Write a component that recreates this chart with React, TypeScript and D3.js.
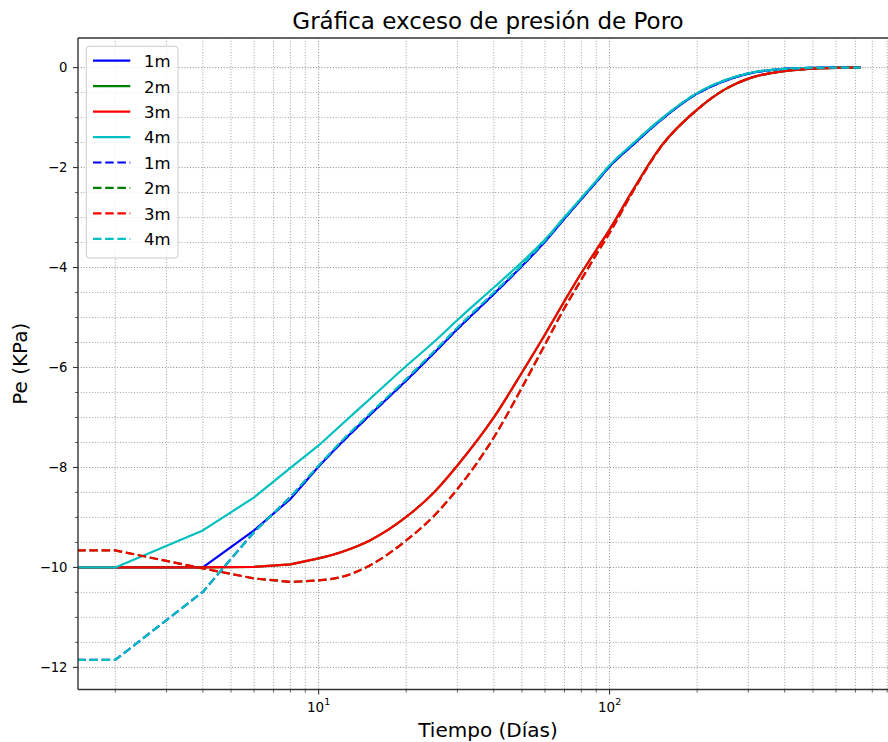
import React from 'react';
import * as d3 from 'd3';

// time steps (days); t = 0 is clipped to the left edge like matplotlib's log axis
const times = [0, 2, 4, 6, 8, 10, 12, 15, 20, 25, 30, 40, 50, 60, 70, 80, 90, 100, 120, 150, 200, 250, 300, 400, 500, 600, 730];

// solid curves
const pe1m = [-10, -10, -10, -9.26, -8.63, -7.98, -7.5, -6.95, -6.26, -5.7, -5.23, -4.53, -3.97, -3.48, -3.02, -2.63, -2.29, -1.98, -1.55, -1.05, -0.52, -0.26, -0.12, -0.025, -0.005, 0, 0];
const pe2m = [-10, -10, -10, -9.99, -9.94, -9.82, -9.69, -9.46, -8.99, -8.49, -7.96, -7.0, -6.1, -5.34, -4.67, -4.11, -3.65, -3.24, -2.46, -1.58, -0.84, -0.43, -0.22, -0.07, -0.02, -0.005, 0];
const pe3m = [-10, -10, -10, -9.99, -9.94, -9.82, -9.69, -9.46, -8.99, -8.49, -7.96, -7.0, -6.1, -5.34, -4.67, -4.11, -3.65, -3.24, -2.46, -1.58, -0.84, -0.43, -0.22, -0.07, -0.02, -0.005, 0];
const pe4m = [-10, -10, -9.26, -8.6, -8.01, -7.56, -7.14, -6.63, -5.97, -5.48, -5.05, -4.4, -3.89, -3.44, -2.99, -2.61, -2.27, -1.96, -1.53, -1.03, -0.51, -0.25, -0.115, -0.024, -0.005, 0, 0];

// dashed curves
const pe1mB = [-11.85, -11.85, -10.49, -9.29, -8.59, -7.97, -7.5, -6.95, -6.26, -5.7, -5.23, -4.53, -3.97, -3.48, -3.02, -2.63, -2.29, -1.98, -1.55, -1.05, -0.52, -0.26, -0.12, -0.025, -0.005, 0, 0];
const pe2mB = [-9.66, -9.66, -10.02, -10.22, -10.29, -10.26, -10.19, -9.96, -9.46, -8.96, -8.43, -7.4, -6.4, -5.54, -4.81, -4.24, -3.74, -3.31, -2.49, -1.59, -0.84, -0.43, -0.22, -0.07, -0.02, -0.005, 0];
const pe3mB = [-9.66, -9.66, -10.02, -10.22, -10.29, -10.26, -10.19, -9.96, -9.46, -8.96, -8.43, -7.4, -6.4, -5.54, -4.81, -4.24, -3.74, -3.31, -2.49, -1.59, -0.84, -0.43, -0.22, -0.07, -0.02, -0.005, 0];
const pe4mB = [-11.85, -11.85, -10.49, -9.29, -8.59, -7.96, -7.47, -6.92, -6.23, -5.67, -5.2, -4.5, -3.95, -3.46, -3.0, -2.61, -2.27, -1.96, -1.53, -1.04, -0.51, -0.25, -0.115, -0.024, -0.005, 0, 0];

const labels = ['1m', '2m', '3m', '4m'];
const colors = ['#0000ff', '#008000', '#ff0000', '#00bfbf'];

const series = [
    { label: labels[0], values: pe1m, color: colors[0], dashed: false },
    { label: labels[1], values: pe2m, color: colors[1], dashed: false },
    { label: labels[2], values: pe3m, color: colors[2], dashed: false },
    { label: labels[3], values: pe4m, color: colors[3], dashed: false },
    { label: labels[0], values: pe1mB, color: colors[0], dashed: true },
    { label: labels[1], values: pe2mB, color: colors[1], dashed: true },
    { label: labels[2], values: pe3mB, color: colors[2], dashed: true },
    { label: labels[3], values: pe4mB, color: colors[3], dashed: true },
];

const W = 888;
const H = 742;
const margin = { left: 78, top: 38, right: 898, bottom: 689.5 };
const FONT = 'DejaVu Sans, sans-serif';
const DASH = '8.5,3.7';
const LW = 2.2;
// first index of the smooth (dense-sampled) part of the curves
const SMOOTH_FROM = 5;

export default function App() {
    // x scale: log, 5% padding in log space around the positive times
    const pos = times.filter(t => t > 0);
    const lo = Math.log10(d3.min(pos));
    const hi = Math.log10(d3.max(pos));
    const padX = (hi - lo) * 0.05;
    const xScale = d3.scaleLog()
        .domain([Math.pow(10, lo - padX), Math.pow(10, hi + padX)])
        .range([margin.left, margin.right]);

    // y scale: 5% padding around all values
    const allVals = series.flatMap(s => s.values);
    const yMin = d3.min(allVals);
    const yMax = d3.max(allVals);
    const padY = (yMax - yMin) * 0.05;
    const yScale = d3.scaleLinear()
        .domain([yMin - padY, yMax + padY])
        .range([margin.bottom, margin.top]);

    const xPos = (t: number) => (t > 0 ? xScale(t) : -10000);

    type Pt = [number, number];
    const lineLinear = d3.line<Pt>()
        .x(d => xPos(d[0]))
        .y(d => yScale(d[1]));
    const lineSmooth = d3.line<Pt>()
        .x(d => xPos(d[0]))
        .y(d => yScale(d[1]))
        .curve(d3.curveMonotoneX);

    // straight segments for the coarse early steps, smooth afterwards
    const pathFor = (values: number[]) => {
        const pts: Pt[] = times.map((t, i) => [t, values[i]]);
        const head = lineLinear(pts.slice(0, SMOOTH_FROM + 1)) || '';
        const tail = (lineSmooth(pts.slice(SMOOTH_FROM)) || '').replace(/^M[-\d.,e]+/, '');
        return head + tail;
    };

    const xTicksAll = xScale.ticks();
    const isMajorX = (t: number) => Math.abs(Math.log10(t) - Math.round(Math.log10(t))) < 1e-9;
    const xMajor = xTicksAll.filter(isMajorX);
    const xMinor = xTicksAll.filter(t => !isMajorX(t));

    const yTicksAll = d3.range(-12, 0.001, 0.5);
    const yMajor = yTicksAll.filter(v => Math.abs(v % 2) < 1e-9);
    const yMinor = yTicksAll.filter(v => Math.abs(v % 2) > 1e-9);

    const plotW = margin.right - margin.left;
    const plotH = margin.bottom - margin.top;
    const cx = (margin.left + margin.right) / 2;
    const cy = (margin.top + margin.bottom) / 2;

    const fmtY = (v: number) => (v < 0 ? '\u2212' + Math.abs(v) : String(v));

    // legend layout
    const legX = 86.3, legY = 46.3, legW = 91.7, legH = 211.7;
    const rowY0 = 60.7, rowStep = 25.45;

    return (
        <svg
            width={W}
            height={H}
            style={{ position: 'absolute', left: 0, top: 0, background: '#fff' }}
            fontFamily={FONT}
        >
            <defs>
                <clipPath id="plot-area">
                    <rect x={margin.left} y={margin.top} width={plotW} height={plotH} />
                </clipPath>
            </defs>
            <rect x={0} y={0} width={W} height={H} fill="#fff" />

            {/* grid */}
            <g fill="none" strokeWidth={0.9} strokeDasharray="1,1.8">
                {xMinor.map(t => (
                    <line key={'gx' + t} x1={xScale(t)} x2={xScale(t)} y1={margin.top} y2={margin.bottom} stroke="#999" />
                ))}
                {xMajor.map(t => (
                    <line key={'gX' + t} x1={xScale(t)} x2={xScale(t)} y1={margin.top} y2={margin.bottom} stroke="#7a7a7a" />
                ))}
                {yMinor.map(v => (
                    <line key={'gy' + v} x1={margin.left} x2={margin.right} y1={yScale(v)} y2={yScale(v)} stroke="#999" />
                ))}
                {yMajor.map(v => (
                    <line key={'gY' + v} x1={margin.left} x2={margin.right} y1={yScale(v)} y2={yScale(v)} stroke="#7a7a7a" />
                ))}
            </g>

            {/* curves */}
            <g clipPath="url(#plot-area)" fill="none">
                {series.map((s, i) => (
                    <path
                        key={i}
                        d={pathFor(s.values)}
                        stroke={s.color}
                        strokeWidth={LW}
                        strokeDasharray={s.dashed ? DASH : undefined}
                        strokeLinejoin="round"
                    />
                ))}
            </g>

            {/* spines */}
            <g stroke="#333" strokeWidth={1.4} fill="none">
                <line x1={margin.left} x2={margin.left} y1={margin.top} y2={margin.bottom} />
                <line x1={margin.left} x2={margin.right} y1={margin.bottom} y2={margin.bottom} />
                <line x1={margin.left} x2={margin.right} y1={margin.top} y2={margin.top} />
                <line x1={margin.right} x2={margin.right} y1={margin.top} y2={margin.bottom} />
            </g>

            {/* y ticks */}
            <g stroke="#333" strokeWidth={1.1}>
                {yMajor.map(v => (
                    <line key={'ty' + v} x1={margin.left - 5} x2={margin.left} y1={yScale(v)} y2={yScale(v)} />
                ))}
                {yMinor.map(v => (
                    <line key={'tym' + v} x1={margin.left - 3} x2={margin.left} y1={yScale(v)} y2={yScale(v)} strokeWidth={0.8} />
                ))}
            </g>
            {yMajor.map(v => (
                <text key={'ly' + v} x={67.5} y={yScale(v)} dy="0.36em" textAnchor="end" fontSize={13.2} fill="#000">
                    {fmtY(v)}
                </text>
            ))}

            {/* x ticks */}
            <g stroke="#333" strokeWidth={1.1}>
                {xMajor.map(t => (
                    <line key={'tx' + t} x1={xScale(t)} x2={xScale(t)} y1={margin.bottom} y2={margin.bottom + 5} />
                ))}
                {xMinor.map(t => (
                    <line key={'txm' + t} x1={xScale(t)} x2={xScale(t)} y1={margin.bottom} y2={margin.bottom + 3} strokeWidth={0.8} />
                ))}
            </g>
            {xMajor.map(t => (
                <text key={'lx' + t} x={xScale(t)} y={711.7} textAnchor="middle" fontSize={13.5} fill="#000">
                    <tspan>10</tspan>
                    <tspan dy={-6.5} fontSize={9.5}>{Math.round(Math.log10(t))}</tspan>
                </text>
            ))}

            {/* legend */}
            <rect x={legX} y={legY} width={legW} height={legH} rx={3} fill="#fff" fillOpacity={0.8} stroke="#cccccc" strokeWidth={1} />
            {series.map((s, i) => {
                const ry = rowY0 + i * rowStep;
                return (
                    <g key={'leg' + i}>
                        <line
                            x1={93}
                            x2={130.3}
                            y1={ry}
                            y2={ry}
                            stroke={s.color}
                            strokeWidth={LW}
                            strokeDasharray={s.dashed ? DASH : undefined}
                        />
                        <text x={144} y={ry + 6.4} fontSize={16.5} fill="#000">
                            {s.label}
                        </text>
                    </g>
                );
            })}

            {/* title and axis labels */}
            <text x={cx} y={29.3} textAnchor="middle" fontSize={23} fill="#000">
                Gráfica exceso de presión de Poro
            </text>
            <text x={cx} y={736.5} textAnchor="middle" fontSize={20} fill="#000">
                Tiempo (Días)
            </text>
            <text
                transform={`translate(${26.5}, ${cy}) rotate(-90)`}
                textAnchor="middle"
                fontSize={20}
                fill="#000"
            >
                Pe (KPa)
            </text>
        </svg>
    );
}
